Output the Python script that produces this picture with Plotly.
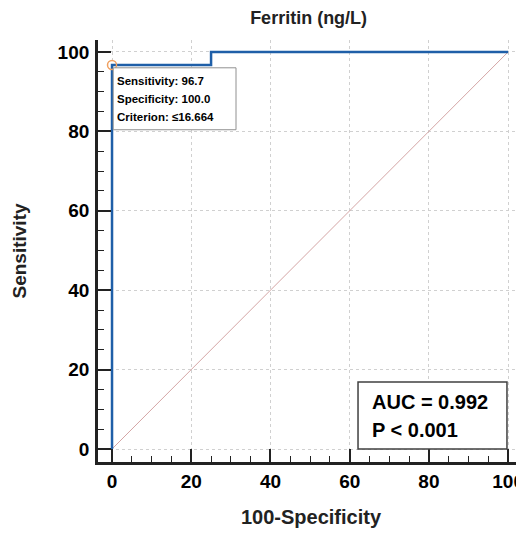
import plotly.graph_objects as go

# ROC curve points (100-Specificity, Sensitivity)
fpr = [0, 0, 25, 25, 100]
sens = [0, 96.7, 96.7, 100, 100]
ref_x = [0, 100]
ref_y = [0, 100]
cut_x = [0]
cut_y = [96.7]
tick_vals = [0, 20, 40, 60, 80, 100]
criterion_lines = ["Sensitivity: 96.7", "Specificity: 100.0", "Criterion: \u226416.664"]
auc_lines = ["AUC = 0.992", "P < 0.001"]

font_family = "Liberation Sans, Arial, sans-serif"

fig = go.Figure()

# reference diagonal
fig.add_trace(go.Scatter(x=ref_x, y=ref_y, mode="lines",
                         line=dict(color="#d4a5a5", width=1), hoverinfo="skip"))

# ROC curve
fig.add_trace(go.Scatter(x=fpr, y=sens, mode="lines",
                         line=dict(color="#1f5fa8", width=2.5)))

# optimal cut-off marker
fig.add_trace(go.Scatter(x=cut_x, y=cut_y, mode="markers",
                         marker=dict(symbol="circle-open", size=9,
                                     color="#f0a060", line=dict(width=1.5))))

# criterion box
fig.add_shape(type="rect", xref="x", yref="y", x0=0.3, x1=31.3, y0=80.4, y1=96.0,
              fillcolor="white", line=dict(color="#909090", width=1), layer="above")
for i, txt in enumerate(criterion_lines):
    fig.add_annotation(x=0.8, y=92.6 - i * 4.55, xref="x", yref="y",
                       xanchor="left", yanchor="middle", text=txt, showarrow=False,
                       font=dict(size=11.5, color="black", family=font_family, weight="bold"))

# AUC box
fig.add_shape(type="rect", xref="x", yref="y", x0=62.1, x1=99.7, y0=0, y1=16.9,
              fillcolor="white", line=dict(color="#404040", width=1.5), layer="above")
for i, txt in enumerate(auc_lines):
    fig.add_annotation(x=65.0, y=11.8 - i * 7.0, xref="x", yref="y",
                       xanchor="left", yanchor="middle", text=txt, showarrow=False,
                       font=dict(size=20, color="black", family=font_family, weight="bold"))

axis_common = dict(
    tickvals=tick_vals,
    ticks="inside", ticklen=13, tickwidth=1.5, tickcolor="#222",
    minor=dict(dtick=5, ticks="inside", ticklen=6, tickwidth=1.2, tickcolor="#222",
               showgrid=False),
    showline=True, linewidth=2.8, linecolor="#222",
    showgrid=True, gridcolor="#d0d0d0", griddash="3px,3px", gridwidth=1,
    zeroline=False, automargin=False, ticklabeloverflow="allow",
    tickfont=dict(size=19, color="black", family=font_family, weight="bold"),
)

fig.update_xaxes(range=[-3.54, 104.0],
                 title=dict(text="100-Specificity", standoff=20,
                            font=dict(size=20, color="#222", family=font_family, weight="bold")),
                 ticklabelstandoff=0,
                 **axis_common)
fig.update_yaxes(range=[-3.27, 103.0],
                 title=dict(text="Sensitivity", standoff=26,
                            font=dict(size=19, color="#222", family=font_family, weight="bold")),
                 ticklabelstandoff=2,
                 **axis_common)

# page body adds an 8px margin, so the plot area is placed 8px in from the reference
fig.update_layout(
    width=524, height=525,
    margin=dict(l=90, r=8, t=32, b=71),
    title=dict(text="Ferritin (ng/L)", x=0.5737, xanchor="center", y=0.981, yanchor="middle",
               font=dict(size=18, color="#222", family=font_family, weight="bold")),
    showlegend=False,
    plot_bgcolor="white", paper_bgcolor="white",
)

fig.write_html("out.html")
